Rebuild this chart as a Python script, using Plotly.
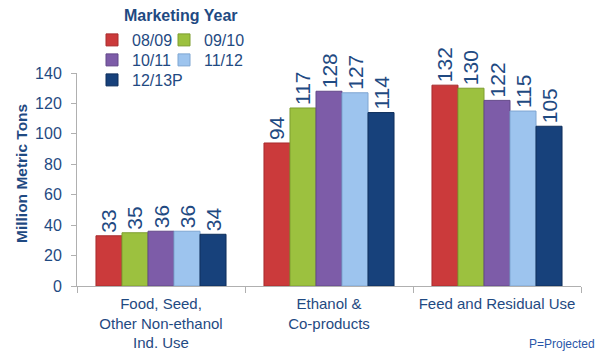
import plotly.graph_objects as go

categories = ["Food, Seed,<br>Other Non-ethanol<br>Ind. Use", "Ethanol &<br>Co-products", "Feed and Residual Use"]
years = ["08/09", "09/10", "10/11", "11/12", "12/13P"]
values = {
    "08/09": [33, 94, 132],
    "09/10": [35, 117, 130],
    "10/11": [36, 128, 122],
    "11/12": [36, 127, 115],
    "12/13P": [34, 114, 105],
}
colors = {
    "08/09": "#CB3A3B",
    "09/10": "#9CC13F",
    "10/11": "#7D5CA8",
    "11/12": "#9DC4EE",
    "12/13P": "#17417B",
}
edge = {
    "08/09": "#A82C2D",
    "09/10": "#7E9E30",
    "10/11": "#634889",
    "11/12": "#7FA6D2",
    "12/13P": "#0F2F5C",
}
legend_ids = ["legend", "legend2", "legend3", "legend4", "legend5"]
# legend text start (x px) and row centre (y px)
legend_pos = [(131, 40), (203, 40), (131, 60), (203, 60), (131, 80)]

TXT = "#1F4A82"
FONT = "Liberation Sans, Arial, sans-serif"
W, H = 603, 352

fig = go.Figure()
for y, lid in zip(years, legend_ids):
    fig.add_trace(go.Bar(
        x=categories, y=values[y], name=y,
        marker=dict(color=colors[y], line=dict(color=edge[y], width=1)),
        texttemplate="%{y}", textposition="outside", textangle=-90,
        textfont=dict(size=21, color=TXT, family=FONT),
        constraintext="none", cliponaxis=False,
        legend=lid,
    ))

legends = {}
for lid, (tx, ty) in zip(legend_ids, legend_pos):
    legends[lid] = dict(orientation="h", xref="container", yref="container",
                        x=(tx - 39) / W, y=1 - ty / H,
                        xanchor="left", yanchor="middle",
                        font=dict(size=16, color=TXT, family=FONT),
                        bgcolor="rgba(0,0,0,0)")

fig.update_layout(
    width=W, height=H,
    margin=dict(l=77, r=22, t=73, b=66, autoexpand=False),
    paper_bgcolor="white", plot_bgcolor="white",
    font=dict(family=FONT, color=TXT),
    bargap=0.226, bargroupgap=0, barmode="group",
    showlegend=True,
    **legends,
    xaxis=dict(showline=True, linecolor="#B0B0B0", linewidth=1, automargin=False,
               ticks="outside", tickson="boundaries", ticklen=6, tickcolor="#B0B0B0",
               tickangle=0, ticklabelstandoff=4,
               tickfont=dict(size=15, color=TXT, family=FONT), showgrid=False),
    yaxis=dict(range=[0, 140], dtick=20, showline=True, linecolor="#B0B0B0", linewidth=1,
               automargin=False, ticklabelstandoff=6,
               ticks="outside", ticklen=5, tickcolor="#B0B0B0",
               tickfont=dict(size=16, color=TXT, family=FONT), showgrid=False, zeroline=False),
    annotations=[
        dict(text="<b>Marketing Year</b>", xref="paper", yref="paper",
             x=(181 - 77) / 504, y=(286 - 16) / 213, xanchor="center", yanchor="middle",
             showarrow=False, font=dict(size=16, color=TXT, family=FONT)),
        dict(text="<b>Million Metric Tons</b>", xref="paper", yref="paper",
             x=(21 - 77) / 504, y=(286 - 174) / 213, xanchor="center", yanchor="middle",
             textangle=-90, showarrow=False, font=dict(size=15.5, color=TXT, family=FONT)),
        dict(text="P=Projected", xref="paper", yref="paper",
             x=(597 - 77) / 504, y=(286 - 344) / 213, xanchor="right", yanchor="middle",
             showarrow=False, font=dict(size=12, color="#2A56A8", family=FONT)),
    ],
)
fig.write_html("out.html", config={"displayModeBar": False},
               post_script="document.body.style.margin='0';")
